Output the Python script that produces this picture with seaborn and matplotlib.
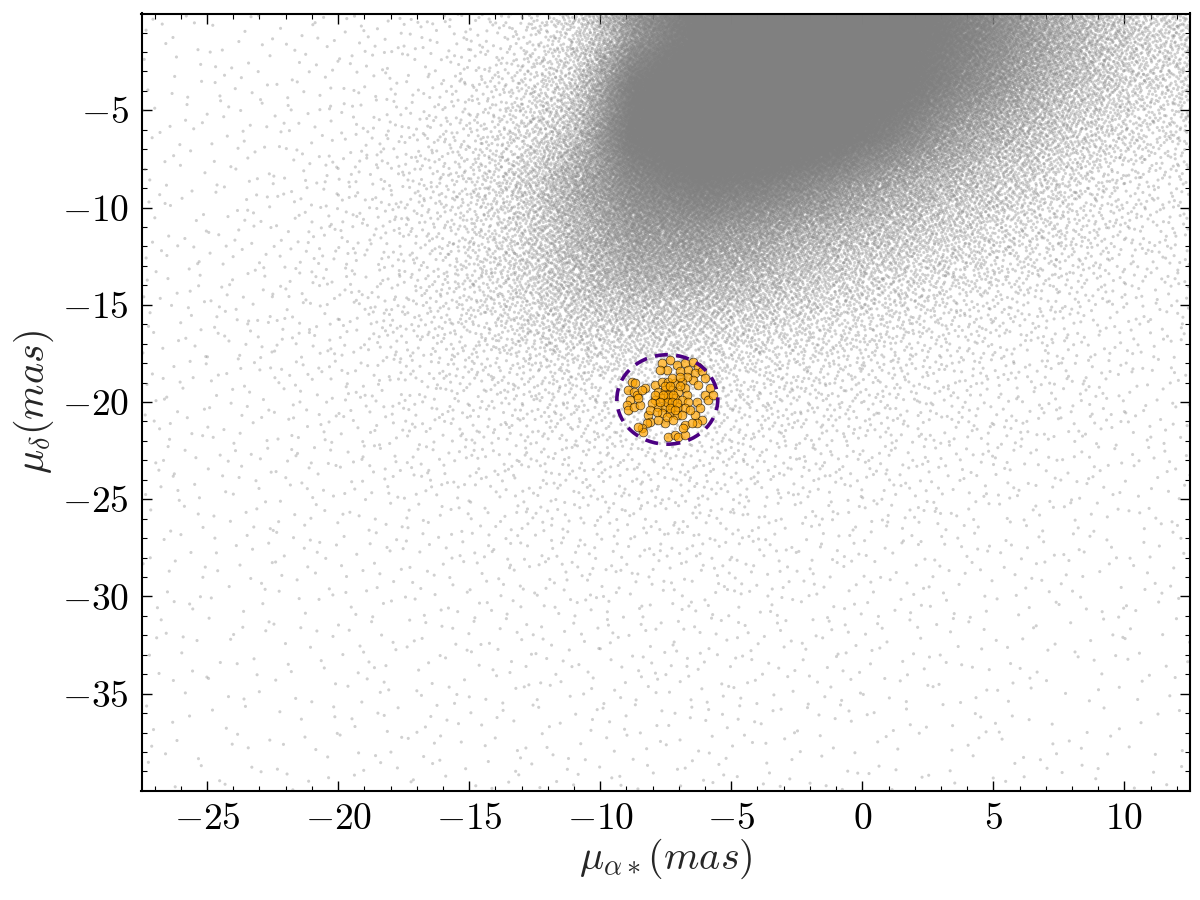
import numpy as np
import matplotlib
matplotlib.use("Agg")
import matplotlib.pyplot as plt
import seaborn as sns
from matplotlib.patches import Ellipse
from matplotlib.ticker import MultipleLocator

# ---------------- data ----------------
# Field-star density (stars per mas^2) on a 2.5 mas grid (cell centres)
grid_x_centres = [-26.25, -23.75, -21.25, -18.75, -16.25, -13.75, -11.25, -8.75,
                  -6.25, -3.75, -1.25, 1.25, 3.75, 6.25, 8.75, 11.25]
grid_y_centres = [-1.25, -3.75, -6.25, -8.75, -11.25, -13.75, -16.25, -18.75,
                  -21.25, -23.75, -26.25, -28.75, -31.25, -33.75, -36.25, -38.75]
field_density = [
    [1.5, 1.5, 2, 3, 5, 10, 35, 250, 800, 1500, 1500, 1000, 500, 220, 95, 45],
    [1.5, 1.8, 2.5, 3.5, 6, 16, 50, 600, 1500, 1500, 1500, 900, 350, 160, 70, 34],
    [1.5, 2, 3, 5, 9, 22, 80, 700, 1500, 1500, 1000, 450, 180, 95, 42, 21],
    [1.8, 2.2, 3.5, 6, 13, 35, 130, 350, 600, 500, 300, 160, 95, 48, 22, 11],
    [2, 2.5, 4, 7, 12, 32, 100, 220, 240, 190, 120, 80, 50, 28, 15, 8],
    [2, 2.5, 4, 6, 12, 32, 75, 130, 130, 95, 60, 38, 25, 15, 9, 6],
    [2, 3, 4, 7, 12, 22, 40, 55, 50, 38, 27, 18, 12, 9, 6, 4],
    [2, 2.5, 3.5, 5, 8, 12, 18, 22, 22, 18, 14, 11, 8, 6, 5, 3],
    [2, 2, 3, 4, 6, 8, 11, 13, 13, 11, 9, 7, 6, 5, 4, 3],
    [1.8, 2, 2.5, 3, 4, 6, 7, 8, 8, 7, 6, 5, 4, 3.5, 3, 2.5],
    [1.5, 1.8, 2, 2.5, 3, 4, 5, 5.5, 5.5, 5, 4, 3.5, 3, 2.5, 2, 2],
    [1.3, 1.5, 1.8, 2, 2.5, 3, 3.5, 4, 4, 3.5, 3, 2.5, 2.2, 2, 1.8, 1.5],
    [1.2, 1.3, 1.5, 1.8, 2, 2.5, 3, 3, 3, 2.8, 2.5, 2, 1.8, 1.6, 1.5, 1.3],
    [1.1, 1.2, 1.4, 1.6, 1.8, 2, 2.3, 2.5, 2.5, 2.3, 2, 1.8, 1.6, 1.4, 1.3, 1.2],
    [1, 1.1, 1.2, 1.4, 1.6, 1.8, 2, 2, 2, 1.9, 1.7, 1.5, 1.4, 1.2, 1.1, 1],
    [0.9, 1, 1.1, 1.2, 1.4, 1.5, 1.7, 1.7, 1.7, 1.6, 1.5, 1.3, 1.2, 1.1, 1, 0.9],
]

# Cluster members (pmra, pmdec) in mas
member_pmra = [
    -7.65, -7.34, -7.08, -6.76, -6.45, -6.26, -6.64, -6.95, -7.46, -7.72, -6.38, -6.13,
    -6.00, -6.45, -6.26, -6.70,
    -8.80, -8.67, -8.93, -8.73, -8.61, -8.86, -8.99, -8.93, -8.73, -8.48, -8.54, -8.29, -8.42,
    -5.81, -6.00, -5.87, -5.68, -6.32, -6.19, -6.38, -6.13, -6.32,
    -8.16, -8.10, -8.23, -8.42, -8.35, -8.54, -7.53, -7.40, -7.15, -7.02, -6.76, -6.76, -6.51, -6.83,
    -7.91, -7.65, -7.40, -7.15, -6.89, -6.76, -7.78, -7.53, -7.27, -7.02, -6.70, -7.91, -7.65,
    -7.40, -7.15, -6.89, -6.64, -7.78, -7.53, -7.27, -7.02, -6.76, -7.65, -7.34, -7.08, -7.91,
    -8.04, -7.27, -6.95, -6.57, -7.46, -7.21, -7.78, -8.10, -7.84, -6.89,
    -7.40, -7.21, -7.46, -7.27, -7.08, -7.59, -7.34, -7.15, -7.72, -6.95, -7.53, -7.34,
]
member_pmdec = [
    -18.00, -17.83, -18.09, -18.00, -17.92, -18.18, -18.35, -18.43, -18.35, -18.35, -18.52, -18.43,
    -18.78, -18.86, -19.12, -18.69,
    -18.95, -19.03, -19.38, -19.46, -19.63, -19.89, -20.15, -20.41, -20.24, -20.15, -19.81, -19.29, -19.38,
    -19.29, -19.63, -19.89, -19.63, -19.98, -20.32, -20.66, -20.92, -21.09,
    -20.66, -21.01, -21.09, -21.35, -21.52, -21.26, -21.09, -21.78, -21.69, -21.78, -21.69, -21.18, -21.09, -21.35,
    -19.12, -18.95, -18.95, -19.03, -18.95, -19.29, -19.46, -19.38, -19.38, -19.46, -19.63, -19.89, -19.81,
    -19.81, -19.81, -19.89, -19.98, -20.24, -20.24, -20.24, -20.24, -20.32, -20.58, -20.58, -20.66, -19.63,
    -20.06, -18.78, -18.69, -20.41, -20.75, -20.92, -20.92, -20.41, -20.49, -20.66,
    -19.63, -19.63, -19.98, -19.98, -20.06, -19.63, -20.32, -20.41, -19.98, -19.20, -19.20, -19.20,
]

# Selection ellipse (centre, full widths) in mas
sel_centre = (-7.44, -19.87)
sel_width = 3.85
sel_height = 4.6

x_limits = (-27.5, 12.5)
y_limits = (-39.98, -0.02)


# ---------------- render the field density as points ----------------
def radical_inverse(n, base):
    n = n.copy()
    f = 1.0
    r = np.zeros(n.shape, dtype=float)
    while np.any(n > 0):
        f /= base
        r += f * (n % base)
        n //= base
    return r


D = np.log(np.array(field_density, dtype=float))
gx = np.array(grid_x_centres)
gy = np.array(grid_y_centres)
dmax = np.exp(D.max())
area = (x_limits[1] - x_limits[0]) * (y_limits[1] - y_limits[0])
n_cand = int(area * dmax)
idx = np.arange(1, n_cand + 1, dtype=np.int64)
cx = x_limits[0] + (x_limits[1] - x_limits[0]) * radical_inverse(idx, 2)
cy = y_limits[0] + (y_limits[1] - y_limits[0]) * radical_inverse(idx, 3)
u = radical_inverse(idx, 5)

fi = np.clip((cx - gx[0]) / 2.5, 0, len(gx) - 1.0001)
fj = np.clip((gy[0] - cy) / 2.5, 0, len(gy) - 1.0001)
i0 = fi.astype(int)
j0 = fj.astype(int)
tx = fi - i0
ty = fj - j0
logd = (D[j0, i0] * (1 - tx) * (1 - ty) + D[j0, i0 + 1] * tx * (1 - ty)
        + D[j0 + 1, i0] * (1 - tx) * ty + D[j0 + 1, i0 + 1] * tx * ty)
keep = u < np.exp(logd) / dmax
field_x = cx[keep]
field_y = cy[keep]

# ---------------- styling ----------------
sns.set_style("ticks")
plt.rcParams.update({
    "font.family": ["serif"],
    "font.serif": ["cmr10", "DejaVu Serif"],
    "mathtext.fontset": "cm",
    "axes.formatter.use_mathtext": True,
    "axes.unicode_minus": True,
})

fig = plt.figure(figsize=(12, 9), dpi=100)
ax = fig.add_axes([141.5 / 1200, 1 - 790.5 / 900, (1190 - 141.5) / 1200, (790.5 - 13.5) / 900])

sns.scatterplot(x=field_x, y=field_y, ax=ax, color="gray", alpha=0.37, s=5,
                linewidth=0, edgecolor="none", legend=False)
sns.scatterplot(x=member_pmra, y=member_pmdec, ax=ax, color="orange", alpha=0.7, s=40,
                edgecolor="black", linewidth=0.5, legend=False, zorder=3)

ell = Ellipse(sel_centre, sel_width, sel_height, fill=False, edgecolor="#4B0082",
              linewidth=2.6, linestyle=(0, (3.6, 2.3)), zorder=4)
ax.add_patch(ell)

ax.set_xlim(*x_limits)
ax.set_ylim(*y_limits)
ax.xaxis.set_major_locator(MultipleLocator(5))
ax.xaxis.set_minor_locator(MultipleLocator(1))
ax.yaxis.set_major_locator(MultipleLocator(5))
ax.yaxis.set_minor_locator(MultipleLocator(1))
ax.tick_params(which="both", direction="in", top=True, right=True, colors="black")
ax.tick_params(which="major", length=7, width=1.0, labelsize=27, pad=9)
ax.tick_params(which="minor", length=3.5, width=0.8)
for sp in ax.spines.values():
    sp.set_linewidth(1.5)
    sp.set_color("black")

ax.set_xlabel(r"$\mu_{\alpha*}(mas)$", fontsize=29, labelpad=0)
ax.set_ylabel(r"$\mu_{\delta}(mas)$", fontsize=29, labelpad=4)

fig.savefig("out.png", dpi=100)
